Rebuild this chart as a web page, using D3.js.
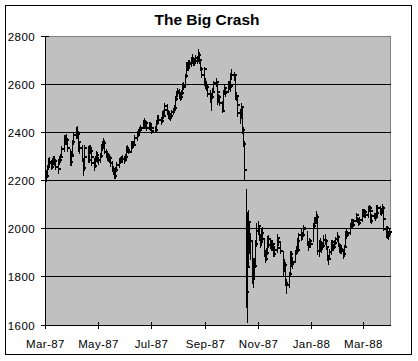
<!DOCTYPE html>
<html>
<head>
<meta charset="utf-8">
<script src="https://cdn.jsdelivr.net/npm/d3@7/dist/d3.min.js"></script>
<style>
  body { margin: 0; background: #fff; }
  svg text { font-family: Arial, "Liberation Sans", sans-serif; fill: #000; }
</style>
</head>
<body>
<svg id="chart" width="418" height="361"></svg>
<script>
// chart text
var title = 'The Big Crash';

// trading calendar
var firstDay = '1987-03-02';
var lastDay = '1988-03-31';
var holidays = ['1987-04-17', '1987-05-25', '1987-07-03', '1987-09-07',
                '1987-11-26', '1987-12-25', '1988-01-01', '1988-02-15'];

// value axis ticks
var yTicks = [1600, 1800, 2000, 2200, 2400, 2600, 2800];

// daily high, one line per month (Mar-87 .. Mar-88)
var high = [
  2236, 2240, 2262, 2290, 2295, 2284, 2290, 2300, 2298, 2289, 2266, 2288, 2300, 2310, 2341, 2375, 2385, 2388, 2390, 2370, 2330, 2312,
  2322, 2366, 2398, 2420, 2425, 2405, 2375, 2352, 2345, 2290, 2310, 2346, 2340, 2344, 2345, 2330, 2307, 2290, 2298, 2320, 2318,
  2296, 2312, 2348, 2360, 2375, 2365, 2330, 2320, 2312, 2308, 2300, 2280, 2260, 2240, 2253, 2275, 2290, 2296, 2300, 2302,
  2300, 2310, 2340, 2345, 2336, 2358, 2360, 2360, 2362, 2385, 2400, 2404, 2412, 2422, 2428, 2450, 2458, 2442, 2450, 2445, 2442, 2440,
  2425, 2428, 2425, 2448, 2462, 2470, 2468, 2462, 2488, 2490, 2503, 2518, 2515, 2492, 2482, 2480, 2490, 2500, 2510, 2548, 2570, 2580,
  2578, 2565, 2575, 2602, 2605, 2640, 2688, 2690, 2700, 2698, 2712, 2725, 2710, 2705, 2720, 2715, 2746, 2730, 2702, 2668, 2670,
  2670, 2625, 2610, 2595, 2575, 2560, 2580, 2612, 2625, 2612, 2568, 2558, 2552, 2530, 2575, 2600, 2590, 2580, 2610, 2612, 2603,
  2645, 2662, 2650, 2640, 2565, 2552, 2520, 2495, 2520, 2500, 2420, 2360, 2164, 2067, 2077, 2028, 1980, 1950, 1878, 1875, 1950, 2023,
  2030, 2010, 1975, 2000, 2005, 1955, 1910, 1918, 1968, 1970, 1960, 1952, 1952, 1940, 1925, 1935, 1975, 1965, 1945, 1905,
  1860, 1870, 1860, 1790, 1820, 1875, 1905, 1905, 1880, 1910, 1925, 1955, 1960, 1980, 1995, 1985, 2010, 2015, 1990, 1945, 1958, 1955,
  2020, 2045, 2048, 2070, 2060, 1950, 1960, 1945, 1942, 1970, 1975, 1955, 1925, 1890, 1912, 1952, 1950, 1935, 1952, 1965,
  1985, 1970, 1940, 1925, 1930, 1912, 1930, 1990, 1995, 1990, 2020, 2040, 2036, 2040, 2065, 2062, 2048, 2042, 2045, 2078,
  2080, 2080, 2078, 2076, 2090, 2098, 2092, 2080, 2060, 2065, 2062, 2095, 2090, 2098, 2090, 2085, 2102, 2090, 2048, 2010, 2008, 1990, 1995
];

// daily low
var low = [
  2205, 2200, 2218, 2250, 2264, 2248, 2252, 2270, 2268, 2250, 2233, 2245, 2272, 2278, 2298, 2325, 2350, 2355, 2355, 2325, 2265, 2268,
  2280, 2305, 2355, 2380, 2378, 2348, 2325, 2316, 2282, 2223, 2245, 2296, 2280, 2280, 2315, 2292, 2265, 2245, 2258, 2282, 2280,
  2270, 2280, 2300, 2330, 2338, 2315, 2298, 2288, 2282, 2280, 2262, 2240, 2228, 2212, 2214, 2240, 2258, 2275, 2278, 2280,
  2275, 2282, 2296, 2320, 2315, 2320, 2335, 2338, 2342, 2348, 2370, 2384, 2385, 2400, 2408, 2418, 2430, 2420, 2422, 2412, 2415, 2412,
  2398, 2405, 2402, 2405, 2435, 2440, 2440, 2438, 2445, 2462, 2468, 2490, 2480, 2462, 2456, 2452, 2462, 2480, 2488, 2500, 2538, 2555,
  2545, 2538, 2540, 2562, 2580, 2590, 2630, 2660, 2662, 2675, 2678, 2692, 2680, 2682, 2695, 2688, 2698, 2690, 2660, 2630, 2632,
  2600, 2585, 2578, 2555, 2530, 2495, 2545, 2568, 2595, 2560, 2520, 2528, 2515, 2485, 2490, 2560, 2560, 2555, 2568, 2580, 2575,
  2596, 2622, 2620, 2540, 2535, 2505, 2470, 2440, 2460, 2400, 2345, 2210, 1678, 1616, 1842, 1900, 1875, 1775, 1760, 1800, 1843, 1930,
  1980, 1955, 1925, 1935, 1950, 1890, 1865, 1870, 1895, 1925, 1920, 1915, 1912, 1890, 1890, 1905, 1918, 1935, 1902, 1825,
  1810, 1828, 1768, 1733, 1760, 1808, 1860, 1845, 1840, 1865, 1895, 1905, 1905, 1915, 1955, 1960, 1970, 1992, 1935, 1915, 1925, 1928,
  1950, 2008, 2025, 2025, 1895, 1890, 1910, 1905, 1918, 1930, 1940, 1918, 1870, 1855, 1875, 1898, 1915, 1912, 1920, 1940,
  1950, 1930, 1905, 1900, 1902, 1880, 1890, 1925, 1965, 1970, 1980, 2008, 2010, 2012, 2032, 2035, 2030, 2018, 2020, 2035,
  2058, 2055, 2052, 2050, 2050, 2075, 2070, 2028, 2025, 2045, 2040, 2048, 2060, 2060, 2062, 2060, 2068, 2040, 1995, 1968, 1965, 1958, 1970
];

// daily close
var close = [
  2220, 2221, 2257, 2276, 2280, 2259, 2281, 2287, 2284, 2259, 2248, 2280, 2287, 2300, 2333, 2363, 2369, 2373, 2372, 2336, 2278, 2305,
  2310, 2361, 2390, 2405, 2397, 2360, 2339, 2338, 2288, 2252, 2300, 2337, 2286, 2338, 2323, 2300, 2276, 2264, 2290, 2307, 2286,
  2286, 2305, 2342, 2343, 2357, 2322, 2310, 2302, 2297, 2295, 2273, 2248, 2237, 2221, 2245, 2265, 2282, 2287, 2290, 2292,
  2288, 2300, 2335, 2330, 2322, 2351, 2342, 2353, 2351, 2377, 2392, 2392, 2407, 2413, 2420, 2445, 2438, 2428, 2440, 2418, 2437, 2419,
  2409, 2420, 2410, 2442, 2452, 2455, 2455, 2448, 2482, 2470, 2496, 2510, 2488, 2475, 2469, 2468, 2485, 2493, 2504, 2542, 2567, 2572,
  2557, 2547, 2566, 2594, 2592, 2635, 2680, 2669, 2691, 2685, 2701, 2706, 2691, 2697, 2709, 2697, 2722, 2701, 2667, 2639, 2663,
  2610, 2599, 2589, 2561, 2545, 2549, 2571, 2608, 2613, 2568, 2531, 2549, 2524, 2492, 2568, 2585, 2567, 2570, 2601, 2590, 2596,
  2639, 2641, 2640, 2549, 2551, 2517, 2482, 2471, 2508, 2413, 2355, 2247, 1739, 1841, 2028, 1950, 1951, 1794, 1846, 1847, 1938, 1994,
  2014, 1964, 1945, 1985, 1959, 1900, 1878, 1899, 1960, 1935, 1949, 1922, 1939, 1896, 1914, 1923, 1963, 1947, 1910, 1834,
  1849, 1851, 1777, 1767, 1812, 1867, 1895, 1855, 1865, 1903, 1908, 1950, 1914, 1975, 1970, 1975, 2006, 2000, 1943, 1927, 1950, 1939,
  2015, 2032, 2038, 2052, 1911, 1945, 1928, 1924, 1931, 1956, 1950, 1924, 1879, 1878, 1904, 1946, 1921, 1925, 1944, 1958,
  1969, 1935, 1911, 1916, 1910, 1895, 1924, 1983, 1976, 1983, 2014, 2034, 2017, 2035, 2057, 2039, 2040, 2024, 2039, 2072,
  2070, 2063, 2072, 2058, 2082, 2087, 2077, 2034, 2054, 2057, 2052, 2086, 2066, 2087, 2067, 2077, 2089, 2043, 2000, 2003, 1979, 1978, 1988
];

var outer = {x: 5, y: 5, w: 406, h: 349};
var plot = {left: 45, right: 390, top: 36, bottom: 325};

var parseDay = d3.utcParse('%Y-%m-%d');

/**
 * Build the list of trading days (weekdays that are not exchange holidays).
 */
function tradingDays() {
    var skip = {};
    holidays.forEach(function(h) { skip[h] = true; });
    var days = d3.utcDay.range(parseDay(firstDay), d3.utcDay.offset(parseDay(lastDay), 1));
    return days.filter(function(d) {
        var wd = d.getUTCDay();
        return wd !== 0 && wd !== 6 && !skip[d3.utcFormat('%Y-%m-%d')(d)];
    });
}

function render() {
    var svg = d3.select('svg#chart');
    var dates = tradingDays();
    var n = Math.min(dates.length, high.length, low.length, close.length);

    var x = d3.scaleUtc()
        .domain([new Date(Date.UTC(1987, 2, 1)), new Date(Date.UTC(1988, 3, 1))])
        .range([plot.left, plot.right]);
    var y = d3.scaleLinear()
        .domain([1600, 2800])
        .range([plot.bottom, plot.top]);

    function py(v) { return Math.floor(y(v)) + 0.5; }

    // outer frame
    svg.append('rect')
        .attr('x', outer.x + 0.5).attr('y', outer.y + 0.5)
        .attr('width', outer.w).attr('height', outer.h)
        .attr('fill', '#fff').attr('stroke', '#000');

    // title
    svg.append('text')
        .attr('x', 207).attr('y', 25)
        .attr('text-anchor', 'middle')
        .style('font-size', '15.5px').style('font-weight', 'bold')
        .text(title);

    // plot area
    svg.append('rect')
        .attr('x', plot.left + 0.5).attr('y', plot.top + 0.5)
        .attr('width', plot.right - plot.left).attr('height', plot.bottom - plot.top)
        .attr('fill', '#c0c0c0').attr('stroke', '#808080');

    // gridlines
    svg.append('g').selectAll('line')
        .data(yTicks.filter(function(t) { return t > 1600 && t < 2800; }))
        .enter().append('line')
            .attr('x1', plot.left).attr('x2', plot.right + 1)
            .attr('y1', py).attr('y2', py)
            .attr('stroke', '#000').attr('shape-rendering', 'crispEdges');

    // high-low bars with close ticks
    var bars = svg.append('g').attr('shape-rendering', 'crispEdges');
    for (var i = 0; i < n; i++) {
        var bx = Math.floor(x(dates[i])) + 0.5;
        bars.append('line')
            .attr('x1', bx).attr('x2', bx)
            .attr('y1', Math.floor(y(high[i]))).attr('y2', Math.ceil(y(low[i])) + 1)
            .attr('stroke', '#000');
        bars.append('rect')
            .attr('x', bx + 0.5).attr('y', Math.floor(y(close[i])))
            .attr('width', 2).attr('height', 2)
            .attr('fill', '#000');
    }

    // value axis
    var yAxis = svg.append('g').attr('shape-rendering', 'crispEdges');
    yAxis.append('line')
        .attr('x1', plot.left + 0.5).attr('x2', plot.left + 0.5)
        .attr('y1', plot.top).attr('y2', plot.bottom + 1)
        .attr('stroke', '#000');
    var yt = yAxis.selectAll('.ytick').data(yTicks).enter().append('g').attr('class', 'ytick');
    yt.append('line')
        .attr('x1', plot.left - 4).attr('x2', plot.left + 4)
        .attr('y1', py).attr('y2', py)
        .attr('stroke', '#000');
    yt.append('text')
        .attr('x', 35).attr('y', function(d) { return py(d) + 4; })
        .attr('text-anchor', 'end')
        .style('font-size', '11.5px').style('letter-spacing', '0.4px')
        .text(function(d) { return d; });

    // date axis
    var xTicks = x.ticks(d3.utcMonth.every(2));
    var fmt = d3.utcFormat('%b-%y');
    var xAxis = svg.append('g').attr('shape-rendering', 'crispEdges');
    xAxis.append('line')
        .attr('x1', plot.left).attr('x2', plot.right + 1)
        .attr('y1', plot.bottom + 0.5).attr('y2', plot.bottom + 0.5)
        .attr('stroke', '#000');
    var xt = xAxis.selectAll('.xtick').data(xTicks).enter().append('g').attr('class', 'xtick');
    xt.append('line')
        .attr('x1', function(d) { return Math.round(x(d)) + 0.5; })
        .attr('x2', function(d) { return Math.round(x(d)) + 0.5; })
        .attr('y1', plot.bottom - 3).attr('y2', plot.bottom + 4)
        .attr('stroke', '#000');
    xt.append('text')
        .attr('x', function(d) { return Math.round(x(d)) + 0.5; })
        .attr('y', 347.5)
        .attr('text-anchor', 'middle')
        .style('font-size', '11.5px').style('letter-spacing', '0.4px')
        .text(fmt);
}

render();
</script>
</body>
</html>
